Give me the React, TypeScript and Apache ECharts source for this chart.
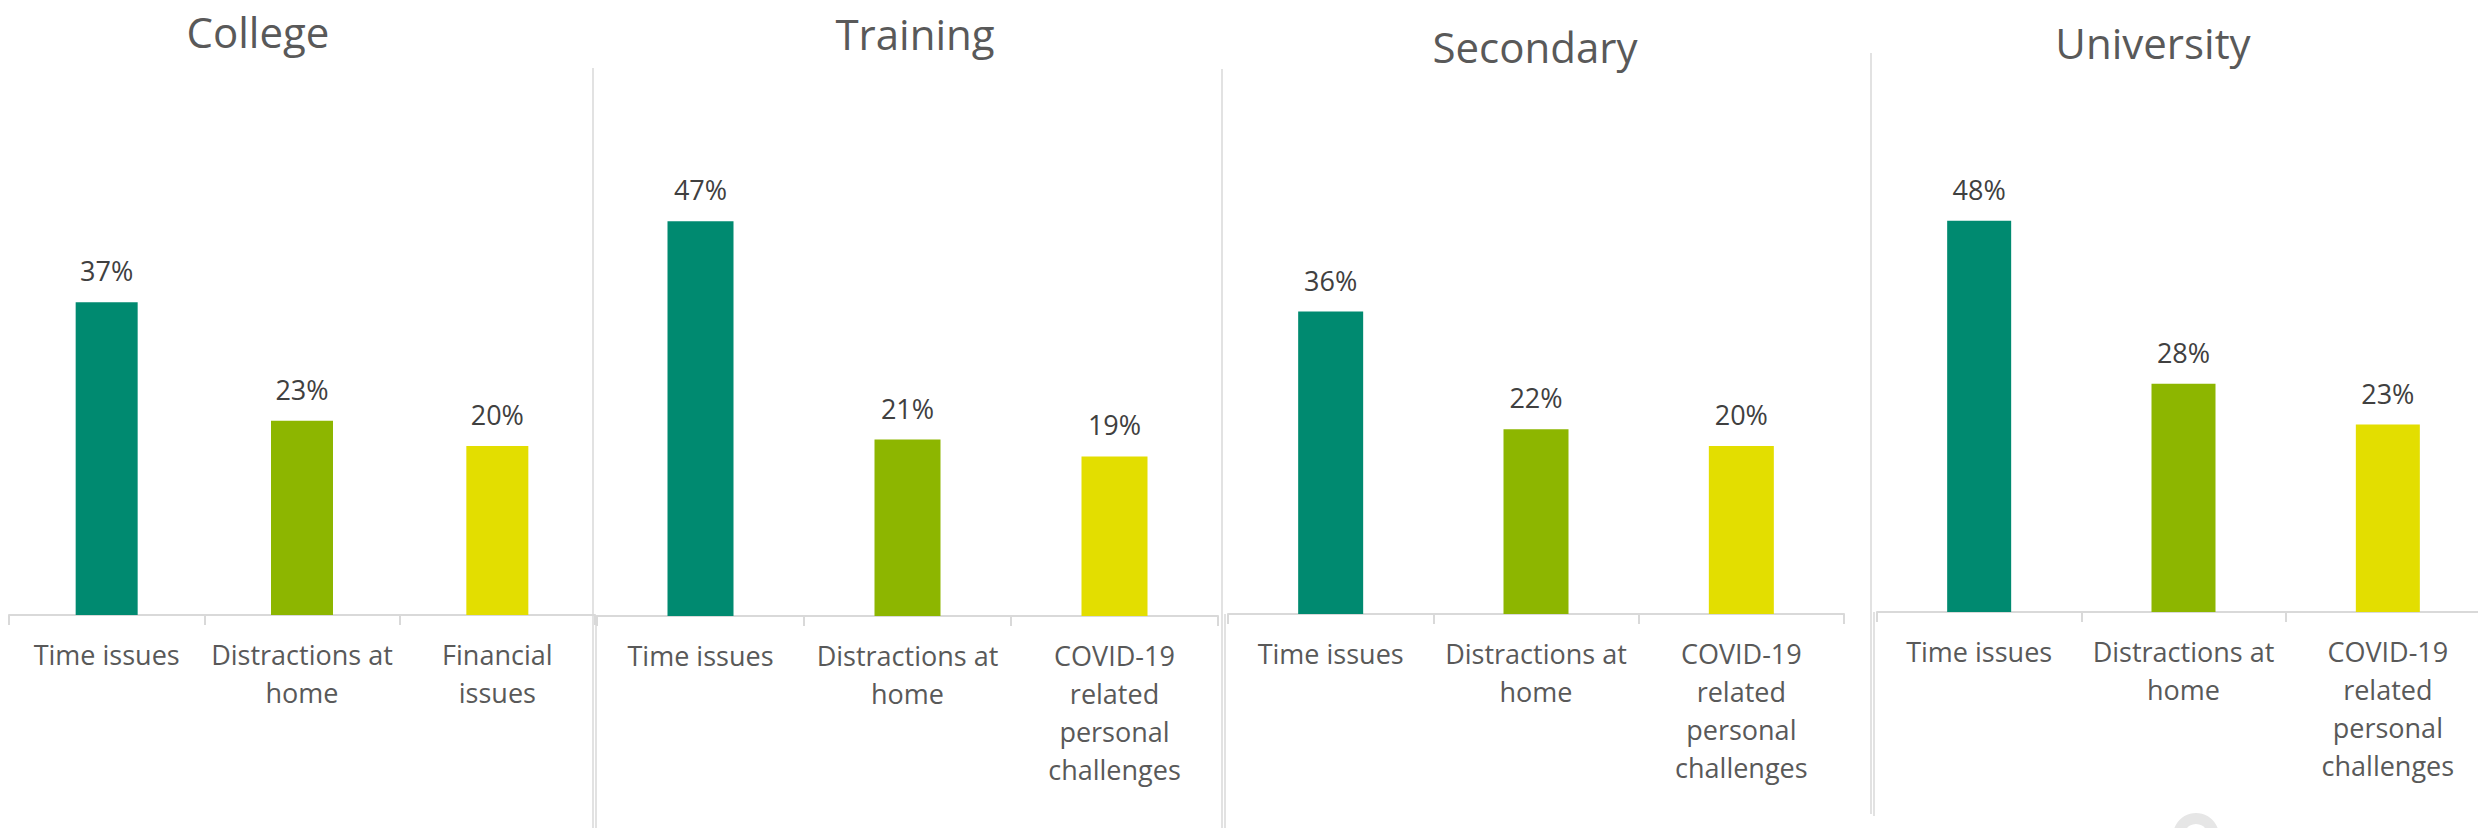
import React, { useEffect, useRef } from "react";
import * as echarts from "echarts";

// ---- Data ----
const panelTitles = ["College", "Training", "Secondary", "University"];
const collegeCategories = ["Time issues", "Distractions at\nhome", "Financial\nissues"];
const otherCategories = [
  "Time issues",
  "Distractions at\nhome",
  "COVID-19\nrelated\npersonal\nchallenges",
];
const collegeValues = [37, 23, 20];
const trainingValues = [47, 21, 19];
const secondaryValues = [36, 22, 20];
const universityValues = [48, 28, 23];
const barColors = ["#008A70", "#8DB600", "#E3DE00"];

// ---- Layout ----
const FONT = "'Open Sans', 'Noto Sans', sans-serif";
const panels = [
  { cats: collegeCategories, values: collegeValues, left: 9, width: 586, top: 108, axisY: 615, barW: 62, tx: 258, ty: 31 },
  { cats: otherCategories, values: trainingValues, left: 597, width: 621, top: 112, axisY: 616, barW: 66, tx: 915, ty: 33 },
  { cats: otherCategories, values: secondaryValues, left: 1228, width: 616, top: 110, axisY: 614, barW: 65, tx: 1535, ty: 46 },
  { cats: otherCategories, values: universityValues, left: 1877, width: 613, top: 123, axisY: 612, barW: 64, tx: 2153, ty: 42 },
];

const lineColor = "#D9D9D9";

export default function App() {
  const ref = useRef<HTMLDivElement>(null);

  useEffect(() => {
    document.body.style.margin = "0";
    document.body.style.overflow = "hidden";
    if (!ref.current) return;
    const chart = echarts.init(ref.current, undefined, { renderer: "svg" });

    const grids = panels.map((p) => ({
      left: p.left,
      top: p.top,
      width: p.width,
      height: p.axisY - p.top,
      containLabel: false,
    }));
    const xAxes = panels.map((p, i) => ({
      type: "category",
      gridIndex: i,
      data: p.cats,
      axisLine: { show: true, lineStyle: { color: lineColor, width: 2 } },
      axisTick: { show: true, length: 10, lineStyle: { color: lineColor, width: 2 } },
      axisLabel: {
        interval: 0,
        fontSize: 27,
        lineHeight: 38,
        color: "#595959",
        fontFamily: FONT,
        margin: 20,
        align: "center",
      },
      splitLine: { show: false },
    }));
    const yAxes = panels.map((_, i) => ({
      type: "value",
      gridIndex: i,
      min: 0,
      max: 60,
      show: false,
      splitLine: { show: false },
    }));
    const series = panels.map((p, i) => ({
      type: "bar",
      xAxisIndex: i,
      yAxisIndex: i,
      barWidth: p.barW,
      data: p.values.map((v, j) => ({ value: v, itemStyle: { color: barColors[j] } })),
      label: {
        show: true,
        position: "top",
        distance: 18,
        formatter: "{c}%",
        fontSize: 27,
        color: "#404040",
        fontFamily: FONT,
      },
    }));

    const graphics: any[] = panels.map((p, i) => ({
      type: "text",
      x: p.tx,
      y: p.ty,
      style: {
        text: panelTitles[i],
        fontSize: 42,
        fontFamily: FONT,
        fill: "#595959",
        textAlign: "center",
        textVerticalAlign: "middle",
      },
    }));
    const separators = [
      { x: 593, top: 68, bottom: 828 },
      { x: 596, top: 615, bottom: 828 },
      { x: 1222, top: 69, bottom: 828 },
      { x: 1225, top: 614, bottom: 828 },
      { x: 1871, top: 53, bottom: 814 },
      { x: 1874, top: 612, bottom: 816 },
    ];
    separators.forEach((s) =>
      graphics.push({
        type: "line",
        shape: { x1: s.x, y1: s.top, x2: s.x, y2: s.bottom },
        style: { stroke: lineColor, lineWidth: 1.5 },
        silent: true,
      })
    );
    graphics.push({
      type: "ring",
      shape: { cx: 2196, cy: 836, r: 23, r0: 12 },
      style: { fill: "#E6E6E6" },
      silent: true,
    });

    chart.setOption({
      animation: false,
      backgroundColor: "#FFFFFF",
      grid: grids,
      xAxis: xAxes,
      yAxis: yAxes,
      series,
      graphic: graphics,
    });

    return () => chart.dispose();
  }, []);

  return (
    <div style={{ width: 2478, height: 828, overflow: "hidden", position: "relative" }}>
      <div ref={ref} style={{ width: 2492, height: 828 }} />
    </div>
  );
}
